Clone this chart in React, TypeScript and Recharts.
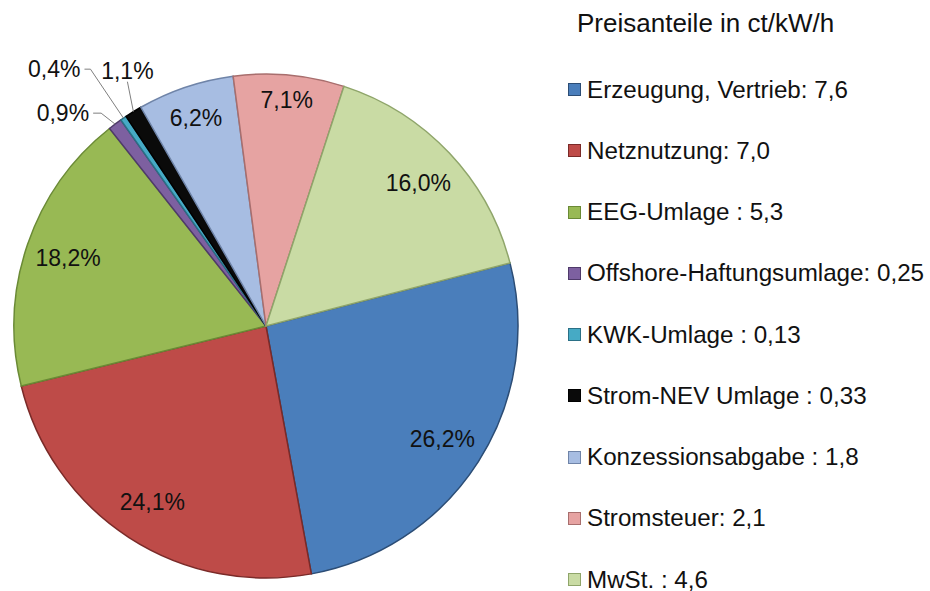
import { PieChart, Pie, Cell, Legend } from "recharts";

// ─── Data ────────────────────────────────────────────────────────────────────

const TITLE = "Preisanteile in ct/kW/h";

const LEGEND_LABELS = [
  "Erzeugung, Vertrieb: 7,6",
  "Netznutzung: 7,0",
  "EEG-Umlage : 5,3",
  "Offshore-Haftungsumlage: 0,25",
  "KWK-Umlage : 0,13",
  "Strom-NEV Umlage : 0,33",
  "Konzessionsabgabe : 1,8",
  "Stromsteuer: 2,1",
  "MwSt. : 4,6",
];

// share of the price in percent, as printed on the slices
const SHARES = [26.2, 24.1, 18.2, 0.9, 0.4, 1.1, 6.2, 7.1, 16.0];

const COLORS = [
  "#4a7ebb",
  "#be4b48",
  "#98b954",
  "#7d60a0",
  "#46aac5",
  "#0a0a0a",
  "#a7bde2",
  "#e6a3a2",
  "#c9dba4",
];

const STROKES = [
  "#2c4d75",
  "#7a2a28",
  "#6a8a35",
  "#4f3a6a",
  "#2b7086",
  "#000000",
  "#6f84a8",
  "#a86e6d",
  "#8fa56a",
];

const data = SHARES.map((v, i) => ({ name: LEGEND_LABELS[i], value: v }));

// ─── Layout ──────────────────────────────────────────────────────────────────

const WIDTH = 930;
const HEIGHT = 591;
const CX = 261; // PieChart adds its 5px margin
const CY = 321;
const R = 252;
const FONT = "'Liberation Sans', Arial, sans-serif";

// label radius factor for the big slices
const LABEL_RADIUS: Record<number, number> = { 0: 0.83, 1: 0.83, 2: 0.83, 6: 0.87, 7: 0.9, 8: 0.83 };

// leader lines for the tiny slices (offsets from the slice edge)
const LEADERS: Record<number, { elbow: [number, number]; end: [number, number]; anchor: "end" | "middle" }> = {
  3: { elbow: [-14, -11], end: [-24, -11], anchor: "end" },
  4: { elbow: [-33, -49], end: [-41, -49], anchor: "end" },
  5: { elbow: [-6, -30], end: [-6, -41], anchor: "middle" },
};

const RADIAN = Math.PI / 180;

const fmt = (v: number) => v.toFixed(1).replace(".", ",") + "%";

function renderLabel(props: any) {
  const { cx, cy, midAngle, outerRadius, index } = props;
  const cos = Math.cos(-midAngle * RADIAN);
  const sin = Math.sin(-midAngle * RADIAN);
  const text = fmt(SHARES[index]);

  const leader = LEADERS[index];
  if (leader) {
    const ex = cx + outerRadius * cos;
    const ey = cy + outerRadius * sin;
    const bx = ex + leader.elbow[0];
    const by = ey + leader.elbow[1];
    const tx = ex + leader.end[0];
    const ty = ey + leader.end[1];
    return (
      <g>
        <polyline
          points={`${ex},${ey} ${bx},${by} ${leader.anchor === "end" ? `${tx + 2},${ty}` : ""}`}
          fill="none"
          stroke="#7f7f7f"
          strokeWidth={1}
        />
        <text
          x={leader.anchor === "end" ? tx - 2 : tx}
          y={ty}
          textAnchor={leader.anchor}
          dominantBaseline="central"
          fontSize={23}
          fontFamily={FONT}
          fill="#111"
        >
          {text}
        </text>
      </g>
    );
  }

  const r = outerRadius * (LABEL_RADIUS[index] ?? 0.83);
  return (
    <text
      x={cx + r * cos}
      y={cy + r * sin}
      textAnchor="middle"
      dominantBaseline="central"
      fontSize={23}
      fontFamily={FONT}
      fill="#111"
    >
      {text}
    </text>
  );
}

function LegendBox() {
  return (
    <div style={{ fontFamily: FONT, color: "#111" }}>
      <div style={{ fontSize: 26, height: 46, lineHeight: "46px", paddingLeft: 17 }}>{TITLE}</div>
      <div style={{ marginTop: 13 }}>
        {LEGEND_LABELS.map((label, i) => (
          <div
            key={label}
            style={{ height: 61.25, display: "flex", alignItems: "center", fontSize: 24.2, whiteSpace: "nowrap" }}
          >
            <span
              style={{
                display: "inline-block",
                width: 11,
                height: 11,
                background: COLORS[i],
                border: `1px solid ${STROKES[i]}`,
                marginRight: 6,
                marginLeft: 8,
              }}
            />
            {label}
          </div>
        ))}
      </div>
    </div>
  );
}

export default function App() {
  return (
    <div style={{ position: "absolute", left: 0, top: 0, width: WIDTH, height: HEIGHT, background: "#fff" }}>
      <PieChart width={WIDTH} height={HEIGHT}>
        <Pie
          data={data}
          dataKey="value"
          cx={CX}
          cy={CY}
          outerRadius={R}
          startAngle={14.5}
          endAngle={14.5 - 360}
          label={renderLabel}
          labelLine={false}
          isAnimationActive={false}
        >
          {data.map((d, i) => (
            <Cell key={d.name} fill={COLORS[i]} stroke={STROKES[i]} strokeWidth={1.5} />
          ))}
        </Pie>
        <Legend
          layout="vertical"
          verticalAlign="top"
          align="right"
          content={() => <LegendBox />}
          wrapperStyle={{ left: 560, top: 0, width: 370 }}
        />
      </PieChart>
    </div>
  );
}
